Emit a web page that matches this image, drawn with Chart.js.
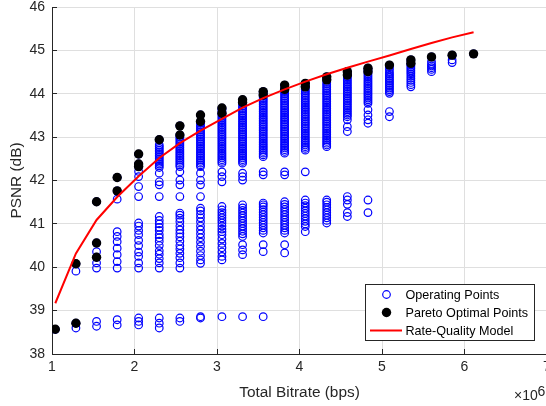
<!DOCTYPE html>
<html>
<head>
<meta charset="utf-8">
<script src="https://cdn.jsdelivr.net/npm/chart.js@4.4.1/dist/chart.umd.min.js"></script>
<style>
  html, body { margin: 0; padding: 0; overflow: hidden; background: #fff; }
  #wrap { width: 546px; height: 406px; overflow: hidden; }
</style>
</head>
<body>
<div id="wrap"><canvas id="chart" width="560" height="406"></canvas></div>
<script>
/* =====================================
   DATA
======================================== */

// bitrate of every encoding column (bps)
const bitrates = [1.04e6, 1.29e6, 1.54e6, 1.79e6, 2.05e6, 2.30e6, 2.55e6, 2.80e6, 3.06e6, 3.31e6, 3.56e6,
                  3.82e6, 4.07e6, 4.33e6, 4.58e6, 4.83e6, 5.09e6, 5.35e6, 5.60e6, 5.85e6, 6.11e6];

// PSNR of the operating points, one list per bitrate column
const operatingPsnr = [
  [38.57],
  [38.60, 38.71, 39.91, 40.08],
  [38.64, 38.75, 39.98, 40.10, 40.23, 40.36, 40.56, 41.51],
  [38.67, 38.79, 39.98, 40.13, 40.29, 40.44, 40.59, 40.71, 40.82, 41.57, 41.76, 42.07],
  [38.67, 38.75, 38.83, 39.98, 40.10, 40.25, 40.35, 40.50, 40.62, 40.75, 40.85, 40.95, 41.02,
   41.63, 41.86, 42.09, 42.21, 42.32, 42.38, 42.61],
  [38.60, 38.71, 38.83, 39.98, 40.10, 40.20, 40.30, 40.38, 40.50, 40.60, 40.68, 40.75, 40.85, 40.92,
   41.00, 41.08, 41.17, 41.63, 41.90, 41.97, 42.17, 42.30, 42.34, 42.38, 42.42, 42.46, 42.50, 42.54,
   42.58, 42.62, 42.66, 42.70, 42.74, 42.78, 42.82, 42.94],
  [38.75, 38.83, 39.98, 40.10, 40.22, 40.32, 40.42, 40.50, 40.60, 40.70, 40.78, 40.86, 40.95, 41.05,
   41.13, 41.20, 41.25, 41.63, 41.90, 42.01, 42.20, 42.32, 42.36, 42.40, 42.44, 42.48, 42.52, 42.56,
   42.60, 42.64, 42.68, 42.72, 42.76, 42.80, 42.84, 42.88, 42.92, 42.96, 43.00, 43.05, 43.26],
  [38.83, 38.86, 40.09, 40.17, 40.27, 40.37, 40.48, 40.58, 40.68, 40.77, 40.86, 40.95, 41.05, 41.14,
   41.22, 41.30, 41.36, 41.63, 41.90, 42.01, 42.17, 42.32, 42.36, 42.40, 42.44, 42.48, 42.52, 42.56,
   42.60, 42.64, 42.68, 42.72, 42.76, 42.80, 42.84, 42.88, 42.92, 42.96, 43.00, 43.04, 43.08, 43.12,
   43.16, 43.20, 43.24, 43.28, 43.32, 43.36, 43.51],
  [38.86, 40.17, 40.25, 40.35, 40.45, 40.55, 40.65, 40.75, 40.82, 40.88, 40.95, 41.02, 41.08, 41.14,
   41.20, 41.26, 41.32, 41.40, 41.97, 42.09, 42.20, 42.40, 42.44, 42.48, 42.52, 42.56, 42.60, 42.64,
   42.68, 42.72, 42.76, 42.80, 42.84, 42.88, 42.92, 42.96, 43.00, 43.04, 43.08, 43.12, 43.16, 43.20,
   43.24, 43.28, 43.32, 43.36, 43.40, 43.44, 43.48, 43.52, 43.56, 43.60, 43.64, 43.67],
  [38.86, 40.29, 40.40, 40.52, 40.71, 40.77, 40.83, 40.89, 40.95, 41.01, 41.07, 41.13, 41.19, 41.25,
   41.31, 41.37, 41.44, 42.01, 42.09, 42.17, 42.40, 42.44, 42.48, 42.52, 42.56, 42.60, 42.64, 42.68,
   42.72, 42.76, 42.80, 42.84, 42.88, 42.92, 42.96, 43.00, 43.04, 43.08, 43.12, 43.16, 43.20, 43.24,
   43.28, 43.32, 43.36, 43.40, 43.44, 43.48, 43.52, 43.56, 43.60, 43.64, 43.68, 43.72, 43.76, 43.80,
   43.84, 43.86],
  [38.86, 40.36, 40.52, 40.79, 40.85, 40.91, 40.97, 41.03, 41.09, 41.15, 41.21, 41.27, 41.33, 41.39,
   41.44, 41.48, 42.13, 42.20, 42.55, 42.59, 42.63, 42.67, 42.71, 42.75, 42.79, 42.83, 42.87, 42.91,
   42.95, 42.99, 43.03, 43.07, 43.11, 43.15, 43.19, 43.23, 43.27, 43.31, 43.35, 43.39, 43.43, 43.47,
   43.51, 43.55, 43.59, 43.63, 43.67, 43.71, 43.75, 43.79, 43.83, 43.87, 43.91, 43.95, 43.99, 44.03,
   44.05],
  [40.33, 40.52, 40.79, 40.85, 40.91, 40.97, 41.03, 41.09, 41.15, 41.21, 41.27, 41.33, 41.39, 41.45,
   41.51, 42.13, 42.20, 42.63, 42.67, 42.71, 42.75, 42.79, 42.83, 42.87, 42.91, 42.95, 42.99, 43.03,
   43.07, 43.11, 43.15, 43.19, 43.23, 43.27, 43.31, 43.35, 43.39, 43.43, 43.47, 43.51, 43.55, 43.59,
   43.63, 43.67, 43.71, 43.75, 43.79, 43.83, 43.87, 43.91, 43.95, 43.99, 44.03, 44.07, 44.10, 44.14,
   44.20],
  [40.82, 40.94, 41.00, 41.06, 41.12, 41.18, 41.24, 41.30, 41.36, 41.42, 41.48, 41.55, 42.20, 42.70,
   42.74, 42.78, 42.82, 42.86, 42.90, 42.94, 42.98, 43.02, 43.06, 43.10, 43.14, 43.18, 43.22, 43.26,
   43.30, 43.34, 43.38, 43.42, 43.46, 43.50, 43.54, 43.58, 43.62, 43.66, 43.70, 43.74, 43.78, 43.82,
   43.86, 43.90, 43.94, 43.98, 44.02, 44.06, 44.10, 44.16, 44.20, 44.24],
  [41.02, 41.08, 41.14, 41.20, 41.26, 41.32, 41.38, 41.44, 41.50, 41.55, 42.78, 42.82, 42.86, 42.90,
   42.94, 42.98, 43.02, 43.06, 43.10, 43.14, 43.18, 43.22, 43.26, 43.30, 43.34, 43.38, 43.42, 43.46,
   43.50, 43.54, 43.58, 43.62, 43.66, 43.70, 43.74, 43.78, 43.82, 43.86, 43.90, 43.94, 43.98, 44.02,
   44.06, 44.10, 44.14, 44.18, 44.22, 44.26, 44.32, 44.39],
  [41.17, 41.26, 41.45, 41.55, 41.63, 43.13, 43.24, 43.40, 43.47, 43.51, 43.55, 43.59, 43.63, 43.67,
   43.71, 43.75, 43.79, 43.83, 43.87, 43.91, 43.95, 43.99, 44.03, 44.07, 44.11, 44.15, 44.19, 44.23,
   44.27, 44.31, 44.35, 44.39, 44.43, 44.47, 44.51],
  [41.26, 41.55, 43.32, 43.40, 43.51, 43.63, 43.78, 43.82, 43.86, 43.90, 43.94, 43.98, 44.02, 44.06,
   44.10, 44.14, 44.18, 44.22, 44.26, 44.30, 44.34, 44.38, 44.42, 44.46, 44.51, 44.55, 44.59],
  [43.47, 43.59, 44.01, 44.05, 44.09, 44.13, 44.17, 44.21, 44.25, 44.29, 44.33, 44.37, 44.41, 44.45,
   44.49, 44.55, 44.60, 44.66],
  [44.16, 44.21, 44.26, 44.31, 44.36, 44.41, 44.46, 44.50, 44.54, 44.58, 44.62, 44.66, 44.70, 44.78],
  [44.51, 44.56, 44.60, 44.64, 44.68, 44.74, 44.85],
  [44.72, 44.78, 44.89],
  [44.92]
];

// Pareto optimal points
const paretoBitrate = [1.04e6, 1.29e6, 1.29e6, 1.54e6, 1.54e6, 1.54e6, 1.79e6, 1.79e6, 2.05e6, 2.05e6,
                       2.05e6, 2.30e6, 2.55e6, 2.55e6, 2.80e6, 2.80e6, 3.06e6, 3.06e6, 3.31e6, 3.31e6,
                       3.56e6, 3.56e6, 3.82e6, 3.82e6, 4.07e6, 4.07e6, 4.33e6, 4.33e6, 4.58e6, 4.58e6,
                       4.83e6, 4.83e6, 5.09e6, 5.35e6, 5.35e6, 5.60e6, 5.85e6, 6.11e6];
const paretoPsnr = [38.57, 38.71, 40.08, 40.23, 40.56, 41.51, 41.76, 42.07, 42.32, 42.38,
                    42.61, 42.94, 43.05, 43.26, 43.36, 43.51, 43.55, 43.67, 43.80, 43.86,
                    43.97, 44.05, 44.10, 44.20, 44.16, 44.24, 44.32, 44.39, 44.43, 44.51,
                    44.51, 44.59, 44.66, 44.70, 44.78, 44.85, 44.89, 44.92];

// rate-quality model, evaluated at the column bitrates
const modelPsnr = [39.17, 40.32, 41.09, 41.62, 42.10, 42.52, 42.86, 43.15, 43.42, 43.68, 43.90,
                   44.10, 44.28, 44.45, 44.60, 44.74, 44.88, 45.03, 45.17, 45.30, 45.42];

const xTicks = [1, 2, 3, 4, 5, 6, 7];       // x 10^6
const yTicks = [38, 39, 40, 41, 42, 43, 44, 45, 46];

/* =====================================
   CHART
======================================== */

const axisColor = '#262626';
const gridColor = '#dfdfdf';
const fontFamily = '"Liberation Sans", Arial, Helvetica, sans-serif';
Chart.defaults.font.family = fontFamily;

const operatingPoints = [];
bitrates.forEach((b, i) => {
    operatingPsnr[i].forEach(p => operatingPoints.push({ x: b, y: p }));
});
const paretoPoints = paretoBitrate.map((b, i) => ({ x: b, y: paretoPsnr[i] }));
const modelPoints = bitrates.map((b, i) => ({ x: b, y: modelPsnr[i] }));

function alignPx(p) {
    return Math.round(p - 0.5) + 0.5;
}

// MATLAB style inward tick marks
const inwardTicks = {
    id: 'inwardTicks',
    beforeDatasetsDraw(chart) {
        const { ctx, chartArea: a, scales: { x, y } } = chart;
        ctx.save();
        ctx.strokeStyle = axisColor;
        ctx.lineWidth = 1;
        ctx.beginPath();
        xTicks.forEach(v => {
            const px = alignPx(x.getPixelForValue(v * 1e6));
            ctx.moveTo(px, a.bottom);
            ctx.lineTo(px, a.bottom - 5);
        });
        yTicks.forEach(v => {
            const py = alignPx(y.getPixelForValue(v));
            ctx.moveTo(a.left, py);
            ctx.lineTo(a.left + 5, py);
        });
        ctx.stroke();
        ctx.restore();
    }
};

// boxed legend inside the axes + exponent label
const boxLegend = {
    id: 'boxLegend',
    afterDraw(chart) {
        const { ctx, chartArea: a } = chart;
        const right = a.right - 13, bottom = a.bottom - 14;
        const w = 169, h = 56;
        const left = right - w, top = bottom - h;
        ctx.save();
        ctx.fillStyle = '#fff';
        ctx.fillRect(left, top, w, h);
        ctx.strokeStyle = axisColor;
        ctx.lineWidth = 1;
        ctx.strokeRect(alignPx(left), alignPx(top), w, h);

        const mx = left + 21.5, tx = left + 40.5;
        const rows = [top + 10.5, top + 28.5, top + 46.5];

        ctx.strokeStyle = '#0000ff';
        ctx.lineWidth = 1.2;
        ctx.beginPath();
        ctx.arc(mx, rows[0], 3.8, 0, Math.PI * 2);
        ctx.stroke();

        ctx.fillStyle = '#000';
        ctx.beginPath();
        ctx.arc(mx, rows[1], 4.7, 0, Math.PI * 2);
        ctx.fill();

        ctx.strokeStyle = '#ff0000';
        ctx.lineWidth = 2;
        ctx.beginPath();
        ctx.moveTo(left + 5, rows[2]);
        ctx.lineTo(left + 37, rows[2]);
        ctx.stroke();

        ctx.fillStyle = '#000';
        ctx.font = '12.6px ' + fontFamily;
        ctx.textAlign = 'left';
        ctx.textBaseline = 'middle';
        ctx.fillText('Operating Points', tx, rows[0] + 1);
        ctx.fillText('Pareto Optimal Points', tx, rows[1] + 1);
        ctx.fillText('Rate-Quality Model', tx, rows[2] + 1);

        // x10^6 exponent of the x axis
        ctx.fillStyle = axisColor;
        ctx.textBaseline = 'alphabetic';
        ctx.font = '14px ' + fontFamily;
        ctx.fillText('\u00d710', a.right - 33, a.bottom + 46);
        ctx.fillText('6', a.right - 9.5, a.bottom + 42);
        ctx.restore();
    }
};

const chart = new Chart(document.getElementById('chart'), {
    type: 'scatter',
    data: {
        datasets: [
            {
                label: 'Operating Points',
                data: operatingPoints,
                pointStyle: 'circle',
                pointRadius: 3.8,
                pointBorderWidth: 1.2,
                borderColor: '#0000ff',
                backgroundColor: 'rgba(0,0,0,0)',
                order: 2
            },
            {
                label: 'Pareto Optimal Points',
                data: paretoPoints,
                pointRadius: 4.7,
                pointBorderWidth: 0,
                borderColor: '#000',
                backgroundColor: '#000',
                order: 1
            },
            {
                label: 'Rate-Quality Model',
                data: modelPoints,
                showLine: true,
                borderColor: '#ff0000',
                borderWidth: 2,
                pointRadius: 0,
                tension: 0,
                order: 0
            }
        ]
    },
    options: {
        responsive: false,
        animation: false,
        events: [],
        layout: { padding: { top: 7, right: 13, left: 0, bottom: 0 } },
        plugins: {
            legend: { display: false },
            tooltip: { enabled: false }
        },
        scales: {
            x: {
                type: 'linear',
                min: 1e6,
                max: 7e6,
                afterBuildTicks: s => { s.ticks = xTicks.map(v => ({ value: v * 1e6 })); },
                ticks: {
                    color: axisColor,
                    font: { size: 14 },
                    padding: 5,
                    autoSkip: false,
                    maxRotation: 0,
                    callback: v => v / 1e6
                },
                grid: { color: gridColor, drawTicks: false },
                border: { color: axisColor, width: 1 },
                title: {
                    display: true,
                    text: 'Total Bitrate (bps)',
                    color: axisColor,
                    font: { size: 15.4, lineHeight: 1 },
                    padding: { top: 0, bottom: 6 }
                },
                afterFit: s => { s.height = 52; s.paddingLeft = 0; s.paddingRight = 0; }
            },
            y: {
                min: 38,
                max: 46,
                afterBuildTicks: s => { s.ticks = yTicks.map(v => ({ value: v })); },
                ticks: {
                    color: axisColor,
                    font: { size: 14 },
                    padding: 7,
                    autoSkip: false
                },
                grid: { color: gridColor, drawTicks: false },
                border: { color: axisColor, width: 1 },
                title: {
                    display: true,
                    text: 'PSNR (dB)',
                    color: axisColor,
                    font: { size: 15.4, lineHeight: 1 },
                    padding: { top: 9, bottom: 0 }
                },
                afterFit: s => { s.width = 52; s.paddingTop = 0; s.paddingBottom = 0; }
            }
        }
    },
    plugins: [inwardTicks, boxLegend]
});
</script>
</body>
</html>
